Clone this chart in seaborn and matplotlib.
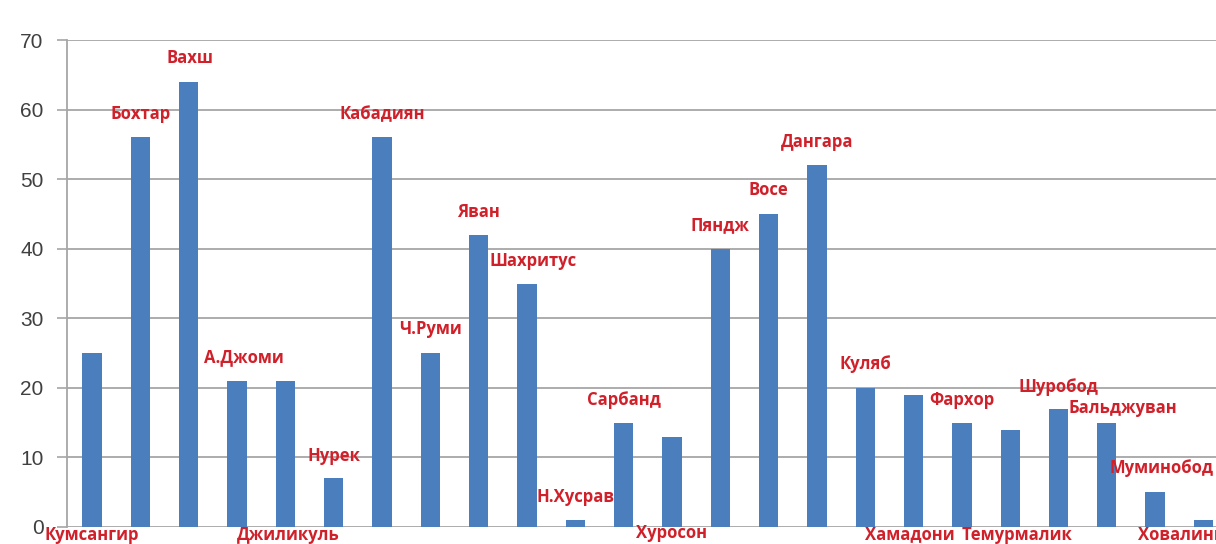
import matplotlib
matplotlib.use("Agg")
import matplotlib.pyplot as plt
import seaborn as sns
import pandas as pd

# Districts and their values
districts = ["Кумсангир", "Бохтар", "Вахш", "А.Джоми", "Джиликуль", "Нурек",
             "Кабадиян", "Ч.Руми", "Яван", "Шахритус", "Н.Хусрав", "Сарбанд",
             "Хуросон", "Пяндж", "Восе", "Дангара", "Куляб", "Хамадони",
             "Фархор", "Темурмалик", "Шуробод", "Бальджуван", "Муминобод",
             "Ховалинг"]
values = [25, 56, 64, 21, 21, 7, 56, 25, 42, 35, 1, 15, 13, 40, 45, 52,
          20, 19, 15, 14, 17, 15, 5, 1]
y_ticks = [0, 10, 20, 30, 40, 50, 60, 70]

# Name label placement: horizontal shift (in bar slots) and vertical position
label_dx = [0, 0, 0.03, 0.14, 0.05, 0, 0, 0, 0, 0.12, 0, 0, 0, 0, 0, 0,
            0, -0.08, 0, 0.15, 0, 0.34, 0.13, -0.48]
label_y = [-1.1, 59.3, 67.4, 24.4, -1.1, 10.2, 59.3, 28.4, 45.3, 38.2, 4.3,
           18.2, -0.9, 43.4, 48.4, 55.3, 23.4, -1.1, 18.2, -1.1, 20.1, 17.1,
           8.5, -1.1]

df = pd.DataFrame({"district": districts, "value": values})

sns.set_style("white")
plt.rcParams["font.family"] = ["DejaVu Sans"]

fig = plt.figure(figsize=(12.16, 5.44), dpi=100)
ax = fig.add_axes([67 / 1216, 17 / 544, 1 - 67 / 1216, 487 / 544])

sns.barplot(data=df, x="district", y="value", color="#4a7ebc",
            width=0.4, saturation=1, linewidth=0, ax=ax, zorder=3)

ax.set_ylim(0, 70)
ax.set_xlim(-0.52, 23.26)
ax.set_yticks(y_ticks)
ax.set_yticklabels([str(t) for t in y_ticks], fontsize=15, color="#404040",
                   family="Liberation Sans")
ax.set_xticks([])
ax.set_xlabel("")
ax.set_ylabel("")

ax.yaxis.grid(True, color="#a6a6a6", linewidth=1.3, zorder=0)
ax.set_axisbelow(True)
ax.tick_params(axis="y", direction="out", length=7, width=1.2,
               color="#a6a6a6", pad=10, left=True)
for side in ("top", "right", "bottom"):
    ax.spines[side].set_visible(False)
ax.spines["left"].set_color("#a6a6a6")
ax.spines["left"].set_linewidth(1.3)

for i, name in enumerate(districts):
    ax.text(i + label_dx[i], label_y[i], name, ha="center", va="center",
            color="#d0202a", fontsize=12, fontweight="bold",
            family="Open Sans", clip_on=False, zorder=5)

fig.savefig("out.png", dpi=100, facecolor="white")
